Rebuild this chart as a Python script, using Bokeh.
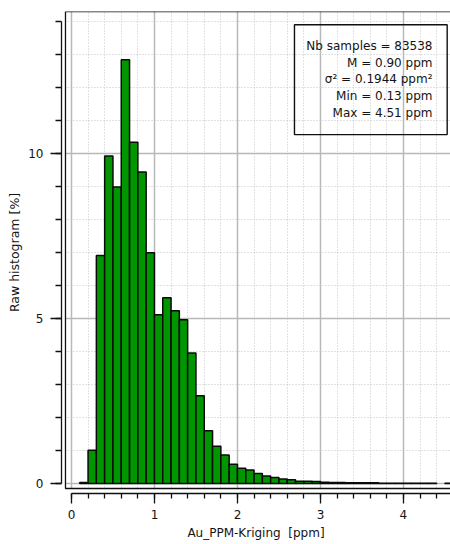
from bokeh.plotting import figure
from bokeh.models import (BoxAnnotation, Label, SingleIntervalTicker)
from bokeh.embed import file_html
from bokeh.resources import INLINE

# ---- data ----
bin_start = [0.1, 0.2, 0.3, 0.4, 0.5, 0.6, 0.7, 0.8, 0.9, 1.0,
             1.1, 1.2, 1.3, 1.4, 1.5, 1.6, 1.7, 1.8, 1.9, 2.0,
             2.1, 2.2, 2.3, 2.4, 2.5, 2.6, 2.7, 2.8, 2.9, 3.0,
             3.1, 3.2, 3.3, 3.4, 3.5, 3.6, 3.7, 3.8, 3.9, 4.0,
             4.1, 4.2, 4.3, 4.4, 4.5]
bin_width = 0.1
freq_pct = [0.03, 1.01, 6.91, 9.92, 8.98, 12.84, 10.34, 9.44, 6.99, 5.11,
            5.63, 5.23, 4.96, 3.95, 2.66, 1.60, 1.13, 0.86, 0.58, 0.46,
            0.41, 0.30, 0.23, 0.18, 0.14, 0.11, 0.07, 0.07, 0.06, 0.04,
            0.03, 0.03, 0.02, 0.02, 0.02, 0.02, 0.01, 0.01, 0.01, 0.01,
            0.01, 0.01, 0.01, 0.0, 0.01]
stats_lines = ["Nb samples = 83538", "M = 0.90 ppm", "\u03c3\u00b2 = 0.1944 ppm\u00b2",
               "Min = 0.13 ppm", "Max = 4.51 ppm"]
x_label = "Au_PPM-Kriging \u00a0[ppm]"
y_label = "Raw histogram [%]"

FONT = "DejaVu Sans"
TXT = "#141414"

p = figure(width=450, height=544, x_range=(-0.12, 4.567), y_range=(-0.303, 14.30),
           output_backend="svg", toolbar_location=None,
           min_border_left=61, min_border_right=0, min_border_top=11, min_border_bottom=51)
p.outline_line_color = None
p.background_fill_color = "white"
p.border_fill_color = "white"

# axes
p.xaxis.ticker = SingleIntervalTicker(interval=1, num_minor_ticks=5)
p.yaxis.ticker = SingleIntervalTicker(interval=5, num_minor_ticks=5)
p.xaxis.bounds = (0, 10)
p.yaxis.bounds = (0, 14)
for ax in (p.xaxis[0], p.yaxis[0]):
    ax.axis_line_color = "#101010"
    ax.axis_line_width = 1.3
    ax.major_tick_line_color = "#101010"
    ax.minor_tick_line_color = "#101010"
    ax.major_tick_line_width = 1.3
    ax.minor_tick_line_width = 1.3
    ax.major_tick_in = 0
    ax.minor_tick_in = 0
    ax.major_label_text_font = FONT
    ax.major_label_text_font_size = "12px"
    ax.major_label_text_color = TXT
    ax.axis_label_text_font = FONT
    ax.axis_label_text_font_size = "12px"
    ax.axis_label_text_font_style = "normal"
    ax.axis_label_text_color = TXT
p.yaxis.axis_label_text_font_size = "12.5px"
p.xaxis.major_tick_out = 10
p.xaxis.minor_tick_out = 5
p.xaxis.major_label_standoff = 6
p.xaxis.axis_label_standoff = 4
p.yaxis.major_tick_out = 11
p.yaxis.minor_tick_out = 6
p.yaxis.major_label_standoff = 7
p.yaxis.axis_label_standoff = 3
p.xaxis.axis_label = x_label
p.yaxis.axis_label = y_label

# grids
for g in (p.xgrid[0], p.ygrid[0]):
    g.bounds = (-1, 20)
    g.grid_line_color = "#b8b8b8"
    g.grid_line_width = 1.5
    g.minor_grid_line_color = "#c4c4c4"
    g.minor_grid_line_width = 1
    g.minor_grid_line_dash = "1 2"

# hide grid between axes and inner frame box
p.add_layout(BoxAnnotation(right=-0.072, fill_color="white", fill_alpha=1,
                           line_color=None, level="underlay"))
p.add_layout(BoxAnnotation(top=-0.152, fill_color="white", fill_alpha=1,
                           line_color=None, level="underlay"))

# bars (empty bins are not drawn)
keep = [i for i, f in enumerate(freq_pct) if f > 0]
p.quad(left=[bin_start[i] for i in keep],
       right=[bin_start[i] + bin_width for i in keep],
       bottom=0, top=[freq_pct[i] for i in keep],
       fill_color="#009600", line_color="#0a0a0a", line_width=1.5)

# inner frame box (left, top, bottom lines)
p.add_layout(BoxAnnotation(left=-0.072, bottom=-0.152, right=6,
                           fill_color=None, line_color="#101010", line_alpha=1,
                           line_width=1.3))

# statistics box
p.add_layout(BoxAnnotation(left=2.687, right=4.527, top=13.90, bottom=10.57,
                           fill_color=None, line_color="#101010", line_alpha=1,
                           line_width=1.4))
for i, t in enumerate(stats_lines):
    p.add_layout(Label(x=4.35, y=13.25 - 0.505 * i, text=t, text_align="right",
                       text_baseline="middle", text_font=FONT,
                       text_font_size="12px", text_color=TXT))

open("out.html", "w").write(file_html(p, INLINE))
